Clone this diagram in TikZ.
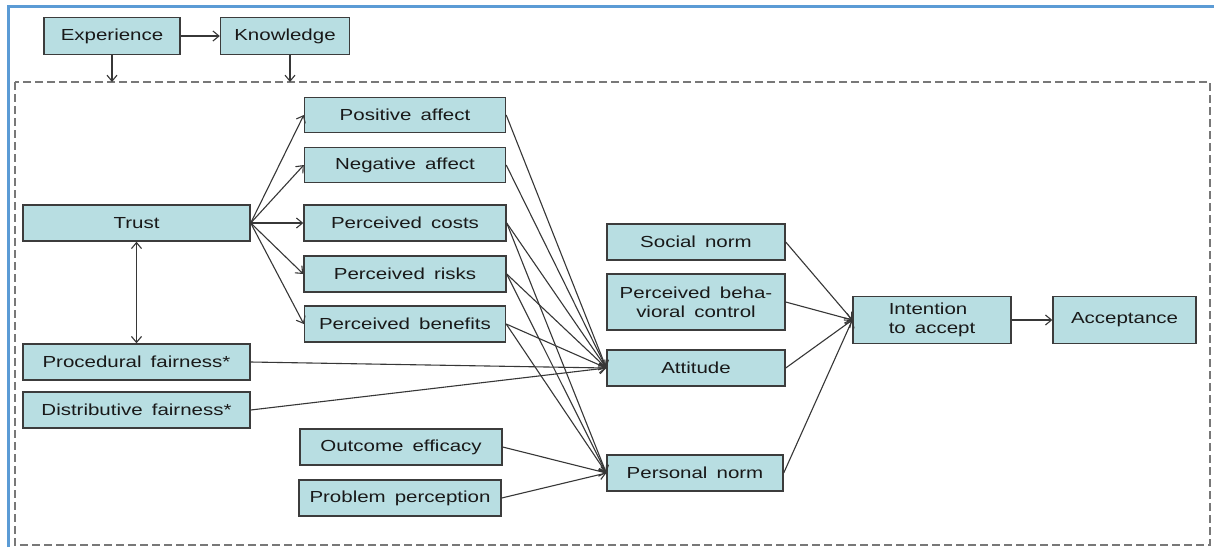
\documentclass[tikz,border=0pt]{standalone}
\usepackage{fontspec}
\setmainfont{Liberation Sans}[FakeStretch=1.28,WordSpace=1.6]
\usetikzlibrary{arrows.meta}
\definecolor{boxfill}{RGB}{184,222,226}
\definecolor{boxline}{RGB}{60,60,60}
\definecolor{conn}{RGB}{55,55,55}
\definecolor{frameblue}{RGB}{91,155,213}
\definecolor{dashgray}{RGB}{120,120,120}
\definecolor{txt}{RGB}{25,25,25}
\begin{document}
\begin{tikzpicture}[x=1pt,y=-1pt,
  vbox/.style={draw=boxline,fill=boxfill,line width=1.4pt,inner sep=0pt,
    font=\fontsize{16}{17}\selectfont,text=txt,align=center},
  conn/.style={draw=conn,line width=1.1pt,-{Straight Barb[length=6pt,width=10pt]}},
  dconn/.style={draw=conn,line width=1.1pt,{Straight Barb[length=6pt,width=10pt]}-{Straight Barb[length=6pt,width=10pt]}}]
\useasboundingbox (0,0) rectangle (1214,547);
\fill[white] (0,0) rectangle (1214,547);
% blue frame (top and left)
\draw[frameblue,line width=3pt] (8,547) -- (8,6) -- (1214,6);
% dashed frame
\draw[dashgray,line width=1.5pt,dash pattern=on 8pt off 4pt] (15,82) rectangle (1210,545);
\coordinate (eb) at (112,82);
\coordinate (kb) at (290,82);
% nodes
\node[vbox,minimum width=136,minimum height=37] (exp) at (112,36) {Experience};
\node[vbox,minimum width=129,minimum height=37] (know) at (285,36) {Knowledge};
\node[vbox,minimum width=201,minimum height=35] (pa) at (405,115) {Positive affect};
\node[vbox,minimum width=201,minimum height=35] (na) at (405,165) {Negative affect};
\node[vbox,minimum width=202,minimum height=36] (pc) at (405,223) {Perceived costs};
\node[vbox,minimum width=202,minimum height=36] (pr) at (405,274) {Perceived risks};
\node[vbox,minimum width=201,minimum height=36] (pb) at (405,324) {Perceived benefits};
\node[vbox,minimum width=227,minimum height=36] (trust) at (136.5,223) {Trust};
\node[vbox,minimum width=227,minimum height=36] (pf) at (136.5,362) {Procedural fairness*};
\node[vbox,minimum width=227,minimum height=36] (df) at (136.5,410) {Distributive fairness*};
\node[vbox,minimum width=202,minimum height=36] (oe) at (401,447) {Outcome efficacy};
\node[vbox,minimum width=202,minimum height=36] (pp) at (400,498) {Problem perception};
\node[vbox,minimum width=178,minimum height=36] (sn) at (696,242) {Social norm};
\node[vbox,minimum width=178,minimum height=56,font=\fontsize{16}{19}\selectfont] (pbc) at (696,302) {Perceived beha-\\vioral control};
\node[vbox,minimum width=178,minimum height=36] (att) at (696,368) {Attitude};
\node[vbox,minimum width=176,minimum height=36] (pn) at (695,473) {Personal norm};
\node[vbox,minimum width=158,minimum height=47,align=left,font=\fontsize{16}{19}\selectfont] (int) at (932,320) {Intention\\to accept};
\node[vbox,minimum width=143,minimum height=47] (acc) at (1124.5,320) {Acceptance};
% connectors
\draw[conn] (exp) -- (know);
\draw[conn] (exp.south) -- (eb);
\draw[conn] (know.south -| kb) -- (kb);
\draw[dconn] (trust) -- (pf);
\foreach \t in {pa,na,pc,pr,pb} \draw[conn] (trust.east) -- (\t.west);
\foreach \s in {pa,na,pc,pr,pb,pf,df} \draw[conn] (\s.east) -- (att.west);
\foreach \s in {pc,pr,pb,oe,pp} \draw[conn] (\s.east) -- (pn.west);
\foreach \s in {sn,pbc,att,pn} \draw[conn] (\s.east) -- (int.west);
\draw[conn] (int) -- (acc);
\end{tikzpicture}
\end{document}
